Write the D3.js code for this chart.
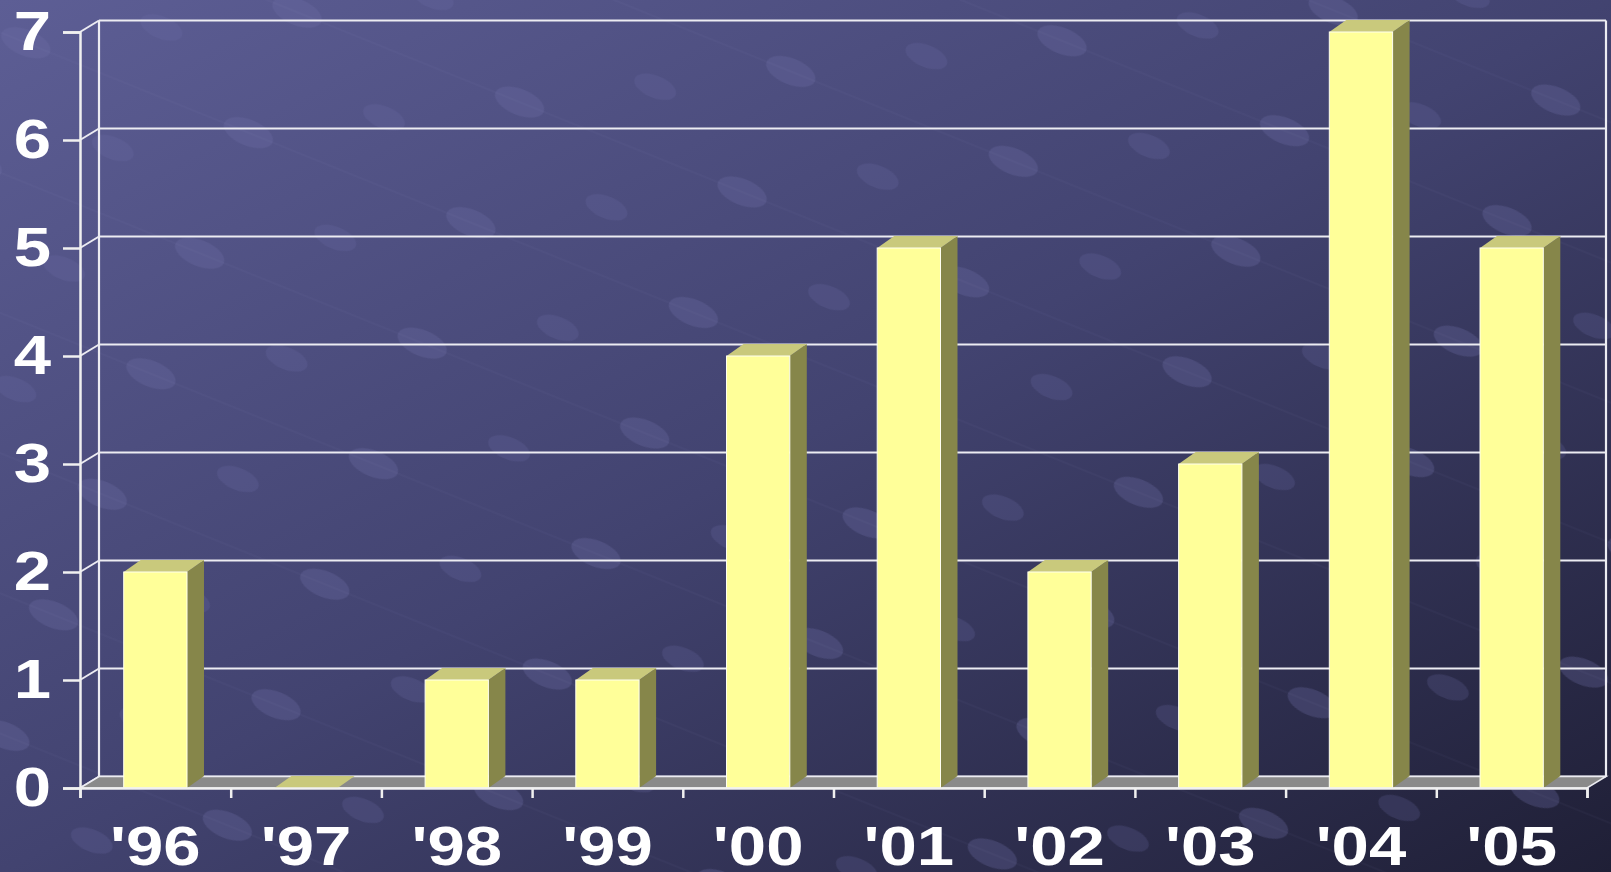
<!DOCTYPE html>
<html>
<head>
<meta charset="utf-8">
<script src="https://cdn.jsdelivr.net/npm/d3@7"></script>
<style>
  html, body { margin: 0; padding: 0; overflow: hidden; }
  #chart text { font-family: "Liberation Sans", Arial, sans-serif; font-weight: bold; fill: #fff; }
</style>
</head>
<body>
<div id="chart"></div>
<script>
const years = ["'96", "'97", "'98", "'99", "'00", "'01", "'02", "'03", "'04", "'05"];
const counts = [2, 0, 1, 1, 4, 5, 2, 3, 7, 5];
const yTicks = [0, 1, 2, 3, 4, 5, 6, 7];

const w = 1611;
const h = 872;
const padLeft = 80, padRight = 1587, padBottom = 788, padTop = 32;
// 3d depth offset
const dx = 19, dy = -11.5;
const bdx = 17, bdy = -12;

const svg = d3.select('#chart').append('svg')
  .attr('width', w)
  .attr('height', h);

const defs = svg.append('defs');
const grad = defs.append('linearGradient')
  .attr('id', 'bg')
  .attr('x1', '0').attr('y1', '0').attr('x2', '1').attr('y2', '1');
grad.append('stop').attr('offset', '0%').attr('stop-color', '#5d5e95');
grad.append('stop').attr('offset', '50%').attr('stop-color', '#424370');
grad.append('stop').attr('offset', '100%').attr('stop-color', '#1f1f36');

// faint dotted texture of the slide background
const pat = defs.append('pattern')
  .attr('id', 'dots')
  .attr('patternUnits', 'userSpaceOnUse')
  .attr('width', 240).attr('height', 130)
  .attr('patternTransform', 'rotate(22)');
pat.append('ellipse').attr('cx', 40).attr('cy', 30).attr('rx', 26).attr('ry', 13)
  .attr('fill', '#6d6fa6').attr('opacity', 0.3);
pat.append('ellipse').attr('cx', 160).attr('cy', 95).attr('rx', 22).attr('ry', 11)
  .attr('fill', '#6d6fa6').attr('opacity', 0.22);
pat.append('line').attr('x1', 0).attr('y1', 30).attr('x2', 240).attr('y2', 30)
  .attr('stroke', '#8a8cc4').attr('stroke-width', 1).attr('opacity', 0.08);

svg.append('rect').attr('width', w).attr('height', h).attr('fill', 'url(#bg)');
svg.append('rect').attr('width', w).attr('height', h).attr('fill', 'url(#dots)');

const yScale = d3.scaleLinear().domain([0, 7]).range([padBottom, padTop]);
const xBand = d3.scaleBand().domain(years).range([padLeft, padRight])
  .paddingInner(0.58).paddingOuter(0.29);
const xIdx = d3.scaleLinear().domain([0, years.length]).range([padLeft, padRight]);

// back wall gridlines
svg.append('g').selectAll('line')
  .data(yTicks)
  .enter().append('line')
  .attr('x1', padLeft + dx).attr('x2', padRight + dx)
  .attr('y1', d => yScale(d) + dy).attr('y2', d => yScale(d) + dy)
  .attr('stroke', '#ececf2').attr('stroke-width', 2.2);

// side wall slants
svg.append('g').selectAll('line')
  .data(yTicks)
  .enter().append('line')
  .attr('x1', padLeft).attr('x2', padLeft + dx)
  .attr('y1', d => yScale(d)).attr('y2', d => yScale(d) + dy)
  .attr('stroke', '#ececf2').attr('stroke-width', 2);

// wall verticals
svg.append('line').attr('x1', padLeft + dx).attr('x2', padLeft + dx)
  .attr('y1', yScale(7) + dy).attr('y2', yScale(0) + dy)
  .attr('stroke', '#ececf2').attr('stroke-width', 2.2);
svg.append('line').attr('x1', padRight + dx).attr('x2', padRight + dx)
  .attr('y1', yScale(7) + dy).attr('y2', yScale(0) + dy)
  .attr('stroke', '#ececf2').attr('stroke-width', 2.2);

// floor
svg.append('path')
  .attr('d', `M${padLeft},${padBottom}L${padRight},${padBottom}L${padRight + dx},${padBottom + dy}L${padLeft + dx},${padBottom + dy}Z`)
  .attr('fill', '#8a8a8a')
  .attr('stroke', '#ececf2').attr('stroke-width', 1.5);

// bars
const bars = svg.append('g').selectAll('g')
  .data(counts)
  .enter().append('g');

bars.append('path') // side
  .attr('d', (d, i) => {
    const x1 = xBand(years[i]) + xBand.bandwidth();
    const y0 = yScale(0), y1 = yScale(d);
    return `M${x1},${y0}L${x1},${y1}L${x1 + bdx},${y1 + bdy}L${x1 + bdx},${y0 + bdy}Z`;
  })
  .attr('fill', '#86864a');

bars.append('path') // top
  .attr('d', (d, i) => {
    const x0 = xBand(years[i]), x1 = x0 + xBand.bandwidth();
    const y1 = yScale(d);
    return `M${x0},${y1}L${x1},${y1}L${x1 + bdx},${y1 + bdy}L${x0 + bdx},${y1 + bdy}Z`;
  })
  .attr('fill', '#c9c97c');

bars.append('rect') // front
  .attr('x', (d, i) => xBand(years[i]))
  .attr('y', d => yScale(d))
  .attr('width', xBand.bandwidth())
  .attr('height', d => yScale(0) - yScale(d))
  .attr('fill', '#ffff99')
  .attr('stroke', '#fffff0').attr('stroke-width', 1);

// widen bold labels like the original slide font
function stretch(sel) {
  sel.each(function() {
    const len = this.getComputedTextLength();
    d3.select(this).attr('textLength', len * 1.22).attr('lengthAdjust', 'spacingAndGlyphs');
  });
}

// y axis
const yAxis = svg.append('g')
  .attr('transform', `translate(${padLeft},0)`)
  .call(d3.axisLeft(yScale).tickValues(yTicks).tickSize(17).tickPadding(12).tickFormat(d3.format('d')));
yAxis.selectAll('line, path').attr('stroke', '#f0f0f0').attr('stroke-width', 2.5);
yAxis.selectAll('text').style('font-size', '55px').attr('fill', '#fff').call(stretch);

// x axis ticks at category boundaries
const xTicks = svg.append('g')
  .attr('transform', `translate(0,${padBottom})`)
  .call(d3.axisBottom(xIdx).ticks(years.length).tickSize(10).tickFormat(''));
xTicks.selectAll('line, path').attr('stroke', '#f0f0f0').attr('stroke-width', 2.5);

// x axis labels
const xAxis = svg.append('g')
  .attr('transform', `translate(0,${padBottom})`)
  .call(d3.axisBottom(xBand).tickSize(0).tickPadding(38));
xAxis.select('path').remove();
xAxis.selectAll('text').style('font-size', '55px').attr('fill', '#fff').call(stretch);
</script>
</body>
</html>
